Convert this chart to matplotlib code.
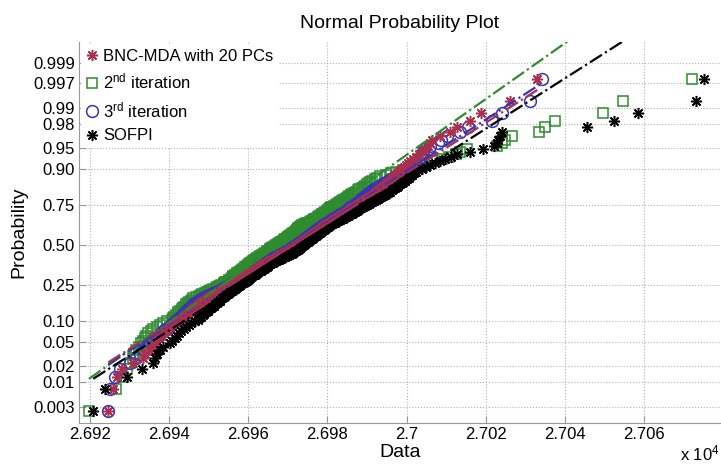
import numpy as np
import matplotlib.pyplot as plt
from statistics import NormalDist

plt.rcParams['font.family'] = ['Liberation Sans', 'DejaVu Sans']
plt.rcParams['mathtext.default'] = 'regular'

# sorted sample values (200 points per series)
bnc_mda = [
    26924.7, 26925.9, 26926.8, 26928.2, 26931.0, 26933.5, 26934.0, 26934.9, 26935.7, 26936.5,
    26937.1, 26937.6, 26938.2, 26938.7, 26939.3, 26939.8, 26940.4, 26940.9, 26941.5, 26942.1,
    26942.8, 26943.2, 26943.7, 26944.1, 26944.6, 26945.0, 26945.4, 26945.9, 26946.3, 26946.7,
    26947.1, 26947.4, 26947.8, 26948.2, 26948.6, 26949.1, 26949.6, 26950.0, 26950.5, 26950.9,
    26951.4, 26951.8, 26952.3, 26952.7, 26953.1, 26953.6, 26954.0, 26954.5, 26954.9, 26955.4,
    26955.7, 26956.1, 26956.4, 26956.8, 26957.1, 26957.5, 26957.8, 26958.2, 26958.5, 26958.9,
    26959.2, 26959.6, 26959.9, 26960.3, 26960.6, 26961.0, 26961.4, 26961.8, 26962.1, 26962.5,
    26962.8, 26963.1, 26963.3, 26963.5, 26963.9, 26964.2, 26964.6, 26964.9, 26965.3, 26965.6,
    26966.0, 26966.3, 26966.7, 26967.0, 26967.4, 26967.7, 26968.1, 26968.4, 26968.8, 26969.1,
    26969.4, 26969.8, 26970.1, 26970.4, 26970.7, 26971.0, 26971.2, 26971.5, 26971.8, 26972.1,
    26972.4, 26972.7, 26973.0, 26973.3, 26973.6, 26973.8, 26974.1, 26974.4, 26974.7, 26975.0,
    26975.2, 26975.5, 26975.8, 26976.0, 26976.3, 26976.6, 26976.9, 26977.2, 26977.4, 26977.7,
    26977.9, 26978.2, 26978.4, 26978.7, 26978.9, 26979.1, 26979.4, 26979.7, 26980.1, 26980.4,
    26980.7, 26981.1, 26981.4, 26981.8, 26982.1, 26982.4, 26982.8, 26983.1, 26983.5, 26983.8,
    26984.1, 26984.5, 26984.8, 26985.1, 26985.4, 26985.7, 26986.0, 26986.4, 26986.7, 26987.0,
    26987.4, 26987.8, 26988.2, 26988.6, 26989.0, 26989.4, 26989.8, 26990.2, 26990.6, 26991.0,
    26991.4, 26991.7, 26992.1, 26992.4, 26992.8, 26993.2, 26993.6, 26994.0, 26994.4, 26994.8,
    26995.1, 26995.5, 26995.8, 26996.2, 26996.6, 26996.9, 26997.3, 26997.6, 26998.0, 26998.4,
    26998.9, 26999.4, 26999.9, 27000.4, 27000.9, 27001.6, 27002.3, 27003.1, 27003.9, 27004.7,
    27005.3, 27005.9, 27006.5, 27008.5, 27011.0, 27012.7, 27016.0, 27018.7, 27026.1, 27033.0,
]

iter2 = [
    26919.8, 26926.6, 26928.4, 26929.4, 26930.2, 26930.9, 26931.3, 26931.8, 26932.4, 26932.9,
    26933.4, 26933.9, 26934.1, 26934.8, 26935.6, 26936.0, 26936.9, 26937.7, 26938.5, 26939.6,
    26940.8, 26941.0, 26941.3, 26941.9, 26942.2, 26942.4, 26942.9, 26943.3, 26943.5, 26943.9,
    26944.2, 26944.4, 26944.8, 26945.1, 26945.5, 26945.9, 26946.2, 26946.9, 26947.5, 26948.1,
    26948.4, 26949.0, 26949.7, 26950.1, 26950.6, 26951.2, 26951.8, 26952.2, 26952.7, 26953.2,
    26953.8, 26954.0, 26954.1, 26954.7, 26955.1, 26955.2, 26955.6, 26955.9, 26956.1, 26956.3,
    26956.6, 26957.0, 26957.2, 26957.3, 26957.7, 26958.1, 26958.2, 26958.4, 26958.8, 26959.1,
    26959.3, 26959.4, 26959.8, 26960.0, 26960.3, 26960.4, 26960.9, 26961.1, 26961.2, 26961.6,
    26962.0, 26962.1, 26962.3, 26962.8, 26963.0, 26963.1, 26963.5, 26963.9, 26964.0, 26964.2,
    26964.7, 26964.8, 26965.1, 26965.5, 26965.6, 26965.8, 26966.3, 26966.4, 26966.7, 26967.0,
    26967.3, 26967.5, 26967.9, 26968.2, 26968.3, 26968.7, 26969.0, 26969.2, 26969.4, 26969.9,
    26970.1, 26970.2, 26970.6, 26970.9, 26971.0, 26971.4, 26971.7, 26971.8, 26972.1, 26972.3,
    26972.4, 26972.6, 26972.7, 26973.0, 26973.2, 26973.3, 26973.6, 26974.2, 26974.6, 26975.0,
    26975.5, 26975.9, 26976.3, 26976.6, 26977.0, 26977.5, 26977.7, 26978.0, 26978.4, 26978.6,
    26978.9, 26979.1, 26979.4, 26979.8, 26980.1, 26980.3, 26980.7, 26981.0, 26981.4, 26981.8,
    26982.2, 26982.5, 26983.0, 26983.3, 26983.8, 26984.0, 26984.4, 26984.9, 26985.1, 26985.5,
    26985.9, 26986.2, 26986.8, 26987.2, 26987.8, 26988.1, 26988.7, 26989.2, 26989.6, 26990.1,
    26990.6, 26990.9, 26991.3, 26992.0, 26992.6, 26993.3, 26994.8, 26996.0, 26997.4, 26999.0,
    27000.5, 27002.1, 27003.8, 27005.2, 27007.0, 27008.9, 27010.7, 27012.6, 27013.4, 27015.3,
    27022.9, 27024.0, 27024.9, 27026.6, 27033.5, 27035.0, 27037.6, 27049.5, 27054.7, 27072.0,
]

iter3 = [
    26924.7, 26925.1, 26926.4, 26927.7, 26930.2, 26931.6, 26932.7, 26933.5, 26934.3, 26935.2,
    26935.9, 26936.8, 26937.4, 26938.0, 26938.6, 26939.1, 26939.9, 26940.5, 26941.0, 26941.6,
    26942.3, 26942.6, 26943.0, 26943.4, 26943.9, 26944.1, 26944.5, 26944.9, 26945.3, 26945.6,
    26945.8, 26946.1, 26946.6, 26947.0, 26947.4, 26947.9, 26948.4, 26949.1, 26949.6, 26950.2,
    26950.7, 26951.2, 26951.8, 26952.3, 26952.8, 26953.4, 26953.8, 26954.3, 26954.9, 26955.5,
    26955.8, 26956.1, 26956.5, 26956.9, 26957.2, 26957.5, 26957.9, 26958.2, 26958.5, 26958.9,
    26959.2, 26959.5, 26959.9, 26960.2, 26960.5, 26960.8, 26961.1, 26961.5, 26961.8, 26962.0,
    26962.1, 26962.3, 26962.4, 26962.5, 26962.9, 26963.4, 26963.8, 26964.3, 26964.7, 26965.1,
    26965.5, 26965.9, 26966.3, 26966.7, 26967.1, 26967.5, 26967.9, 26968.4, 26968.7, 26969.0,
    26969.3, 26969.6, 26970.0, 26970.3, 26970.6, 26970.9, 26971.2, 26971.4, 26971.7, 26972.0,
    26972.3, 26972.6, 26972.8, 26973.1, 26973.4, 26973.6, 26973.9, 26974.1, 26974.4, 26974.7,
    26974.9, 26975.1, 26975.4, 26975.7, 26975.9, 26976.2, 26976.4, 26976.6, 26976.9, 26977.1,
    26977.4, 26977.6, 26977.9, 26978.2, 26978.4, 26978.7, 26979.0, 26979.3, 26979.6, 26980.0,
    26980.3, 26980.6, 26981.0, 26981.3, 26981.6, 26982.0, 26982.3, 26982.6, 26983.0, 26983.3,
    26983.6, 26983.9, 26984.3, 26984.6, 26984.9, 26985.2, 26985.5, 26985.8, 26986.2, 26986.5,
    26986.8, 26987.1, 26987.4, 26987.7, 26988.0, 26988.3, 26988.6, 26988.9, 26989.2, 26989.5,
    26989.8, 26990.1, 26990.4, 26990.8, 26991.3, 26991.7, 26992.2, 26992.8, 26993.3, 26993.9,
    26994.4, 26994.8, 26995.3, 26995.9, 26996.5, 26997.1, 26997.8, 26998.4, 26999.0, 26999.6,
    27000.2, 27000.9, 27001.5, 27002.2, 27002.9, 27003.3, 27003.6, 27003.9, 27004.2, 27004.5,
    27005.9, 27008.0, 27008.7, 27010.2, 27013.5, 27015.6, 27021.5, 27024.0, 27031.2, 27034.1,
]

sofpi = [
    26920.9, 26923.9, 26929.3, 26933.3, 26935.9, 26936.5, 26937.0, 26937.8, 26938.5, 26940.3,
    26940.9, 26941.5, 26942.0, 26942.6, 26943.1, 26943.7, 26944.3, 26945.0, 26945.7, 26946.5,
    26947.3, 26947.7, 26948.1, 26948.5, 26948.9, 26949.3, 26949.8, 26950.2, 26950.6, 26951.0,
    26951.4, 26951.7, 26952.1, 26952.5, 26952.8, 26953.0, 26953.4, 26953.8, 26954.1, 26954.5,
    26954.8, 26955.2, 26955.5, 26955.9, 26956.2, 26956.6, 26956.9, 26957.3, 26957.6, 26958.0,
    26958.3, 26958.6, 26958.9, 26959.2, 26959.6, 26959.9, 26960.2, 26960.5, 26960.8, 26961.1,
    26961.4, 26961.7, 26962.0, 26962.3, 26962.6, 26962.9, 26963.2, 26963.6, 26963.9, 26964.2,
    26964.5, 26964.7, 26964.9, 26965.0, 26965.4, 26965.8, 26966.2, 26966.6, 26967.0, 26967.4,
    26967.8, 26968.2, 26968.6, 26969.0, 26969.4, 26969.8, 26970.2, 26970.6, 26971.0, 26971.3,
    26971.6, 26971.9, 26972.2, 26972.5, 26972.8, 26973.0, 26973.2, 26973.4, 26973.6, 26973.9,
    26974.2, 26974.4, 26974.7, 26974.9, 26975.2, 26975.4, 26975.7, 26975.9, 26976.2, 26976.4,
    26976.7, 26976.9, 26977.2, 26977.4, 26977.7, 26977.9, 26978.2, 26978.4, 26978.7, 26978.9,
    26979.2, 26979.4, 26979.7, 26979.9, 26980.2, 26980.4, 26980.7, 26981.1, 26981.5, 26981.9,
    26982.3, 26982.7, 26983.1, 26983.5, 26983.9, 26984.3, 26984.7, 26985.1, 26985.5, 26985.9,
    26986.3, 26986.6, 26987.0, 26987.4, 26987.7, 26988.0, 26988.4, 26988.7, 26989.1, 26989.5,
    26989.9, 26990.4, 26990.8, 26991.3, 26991.7, 26992.2, 26992.7, 26993.1, 26993.6, 26994.0,
    26994.5, 26994.9, 26995.3, 26995.8, 26996.3, 26996.7, 26997.1, 26997.5, 26997.9, 26998.4,
    26998.8, 26999.2, 26999.6, 27000.1, 27000.5, 27000.9, 27001.4, 27001.8, 27002.4, 27002.9,
    27003.8, 27004.9, 27006.0, 27007.2, 27008.5, 27009.8, 27011.3, 27012.8, 27016.1, 27019.3,
    27022.1, 27022.8, 27023.2, 27023.6, 27024.1, 27045.5, 27052.4, 27058.5, 27073.0, 27075.2,
]

prob_ticks = [0.003, 0.01, 0.02, 0.05, 0.10, 0.25, 0.50, 0.75, 0.90, 0.95, 0.98, 0.99, 0.997, 0.999]
prob_labels = ['0.003', '0.01', '0.02', '0.05', '0.10', '0.25', '0.50', '0.75', '0.90', '0.95',
               '0.98', '0.99', '0.997', '0.999']
x_ticks = [26920, 26940, 26960, 26980, 27000, 27020, 27040, 27060]
x_labels = ['2.692', '2.694', '2.696', '2.698', '2.7', '2.702', '2.704', '2.706']

RED = '#A8304E'
GREEN = '#2E8B2E'
BLUE = '#3535B5'
nd = NormalDist()


def normplot(ax, values, color, marker, ms, label, z):
    x = np.sort(np.array(values))
    n = len(x)
    p = (np.arange(1, n + 1) - 0.5) / n
    zz = np.array([nd.inv_cdf(v) for v in p])
    h, = ax.plot(x, zz, linestyle='none', marker=marker, mfc='none', mec=color,
                 ms=ms, mew=1.1, label=label, zorder=z)

    # reference line through the quartiles, as normplot does
    q1, q3 = np.percentile(x, [25, 75], method='hazen')
    sigma = (q3 - q1) / (nd.inv_cdf(0.75) - nd.inv_cdf(0.25))
    mu = (q1 + q3) / 2
    ends = np.array([x[0], x[-1]])
    ax.plot(ends, (ends - mu) / sigma, ls='-.', color=color, lw=1.6, zorder=10)
    mid = np.array([q1, q3])
    ax.plot(mid, (mid - mu) / sigma, ls='-', color=color, lw=1.6, zorder=10)
    return h


fig = plt.figure(figsize=(7.21, 4.69), dpi=100)
ax = fig.add_axes([79 / 721, 1 - 423 / 469, 1 - 79 / 721, (423 - 42) / 469])

asterisk = (8, 2, 0)
h_g = normplot(ax, iter2, GREEN, 's', 7.2, '2$^{nd}$ iteration', 3)
h_b = normplot(ax, iter3, BLUE, 'o', 8.5, '3$^{rd}$ iteration', 4)
h_r = normplot(ax, bnc_mda, RED, asterisk, 8, 'BNC-MDA with 20 PCs', 5)
h_k = normplot(ax, sofpi, 'black', asterisk, 8, 'SOFPI', 6)

ax.set_xlim(26917.3, 27079.4)
ax.set_ylim(-3.017, 3.44)
ax.set_xticks(x_ticks)
ax.set_xticklabels(x_labels)
ax.set_yticks([nd.inv_cdf(p) for p in prob_ticks])
ax.set_yticklabels(prob_labels)
ax.tick_params(direction='in', length=5, color='#999999', labelsize=12, pad=3)
ax.grid(True, linestyle=':', color='#b0b0b0', linewidth=0.8)
ax.set_axisbelow(True)
for s in ['top', 'right']:
    ax.spines[s].set_visible(False)
for s in ['left', 'bottom']:
    ax.spines[s].set_color('#999999')

ax.set_title('Normal Probability Plot', fontsize=14, pad=10)
ax.set_xlabel('Data', fontsize=14, labelpad=1)
ax.set_ylabel('Probability', fontsize=14, labelpad=4)
fig.text(0.998, 0.012, 'x 10$^4$', fontsize=12, ha='right', va='bottom')

leg = ax.legend([h_r, h_g, h_b, h_k],
                [h_r.get_label(), h_g.get_label(), h_b.get_label(), h_k.get_label()],
                loc='upper left', fontsize=12, frameon=True, facecolor='white',
                edgecolor='none', framealpha=1, fancybox=False, handlelength=0.7,
                handletextpad=0.35, labelspacing=0.5, borderaxespad=0.1, borderpad=0.3)
leg.set_zorder(20)

plt.savefig('out.png', dpi=100)
